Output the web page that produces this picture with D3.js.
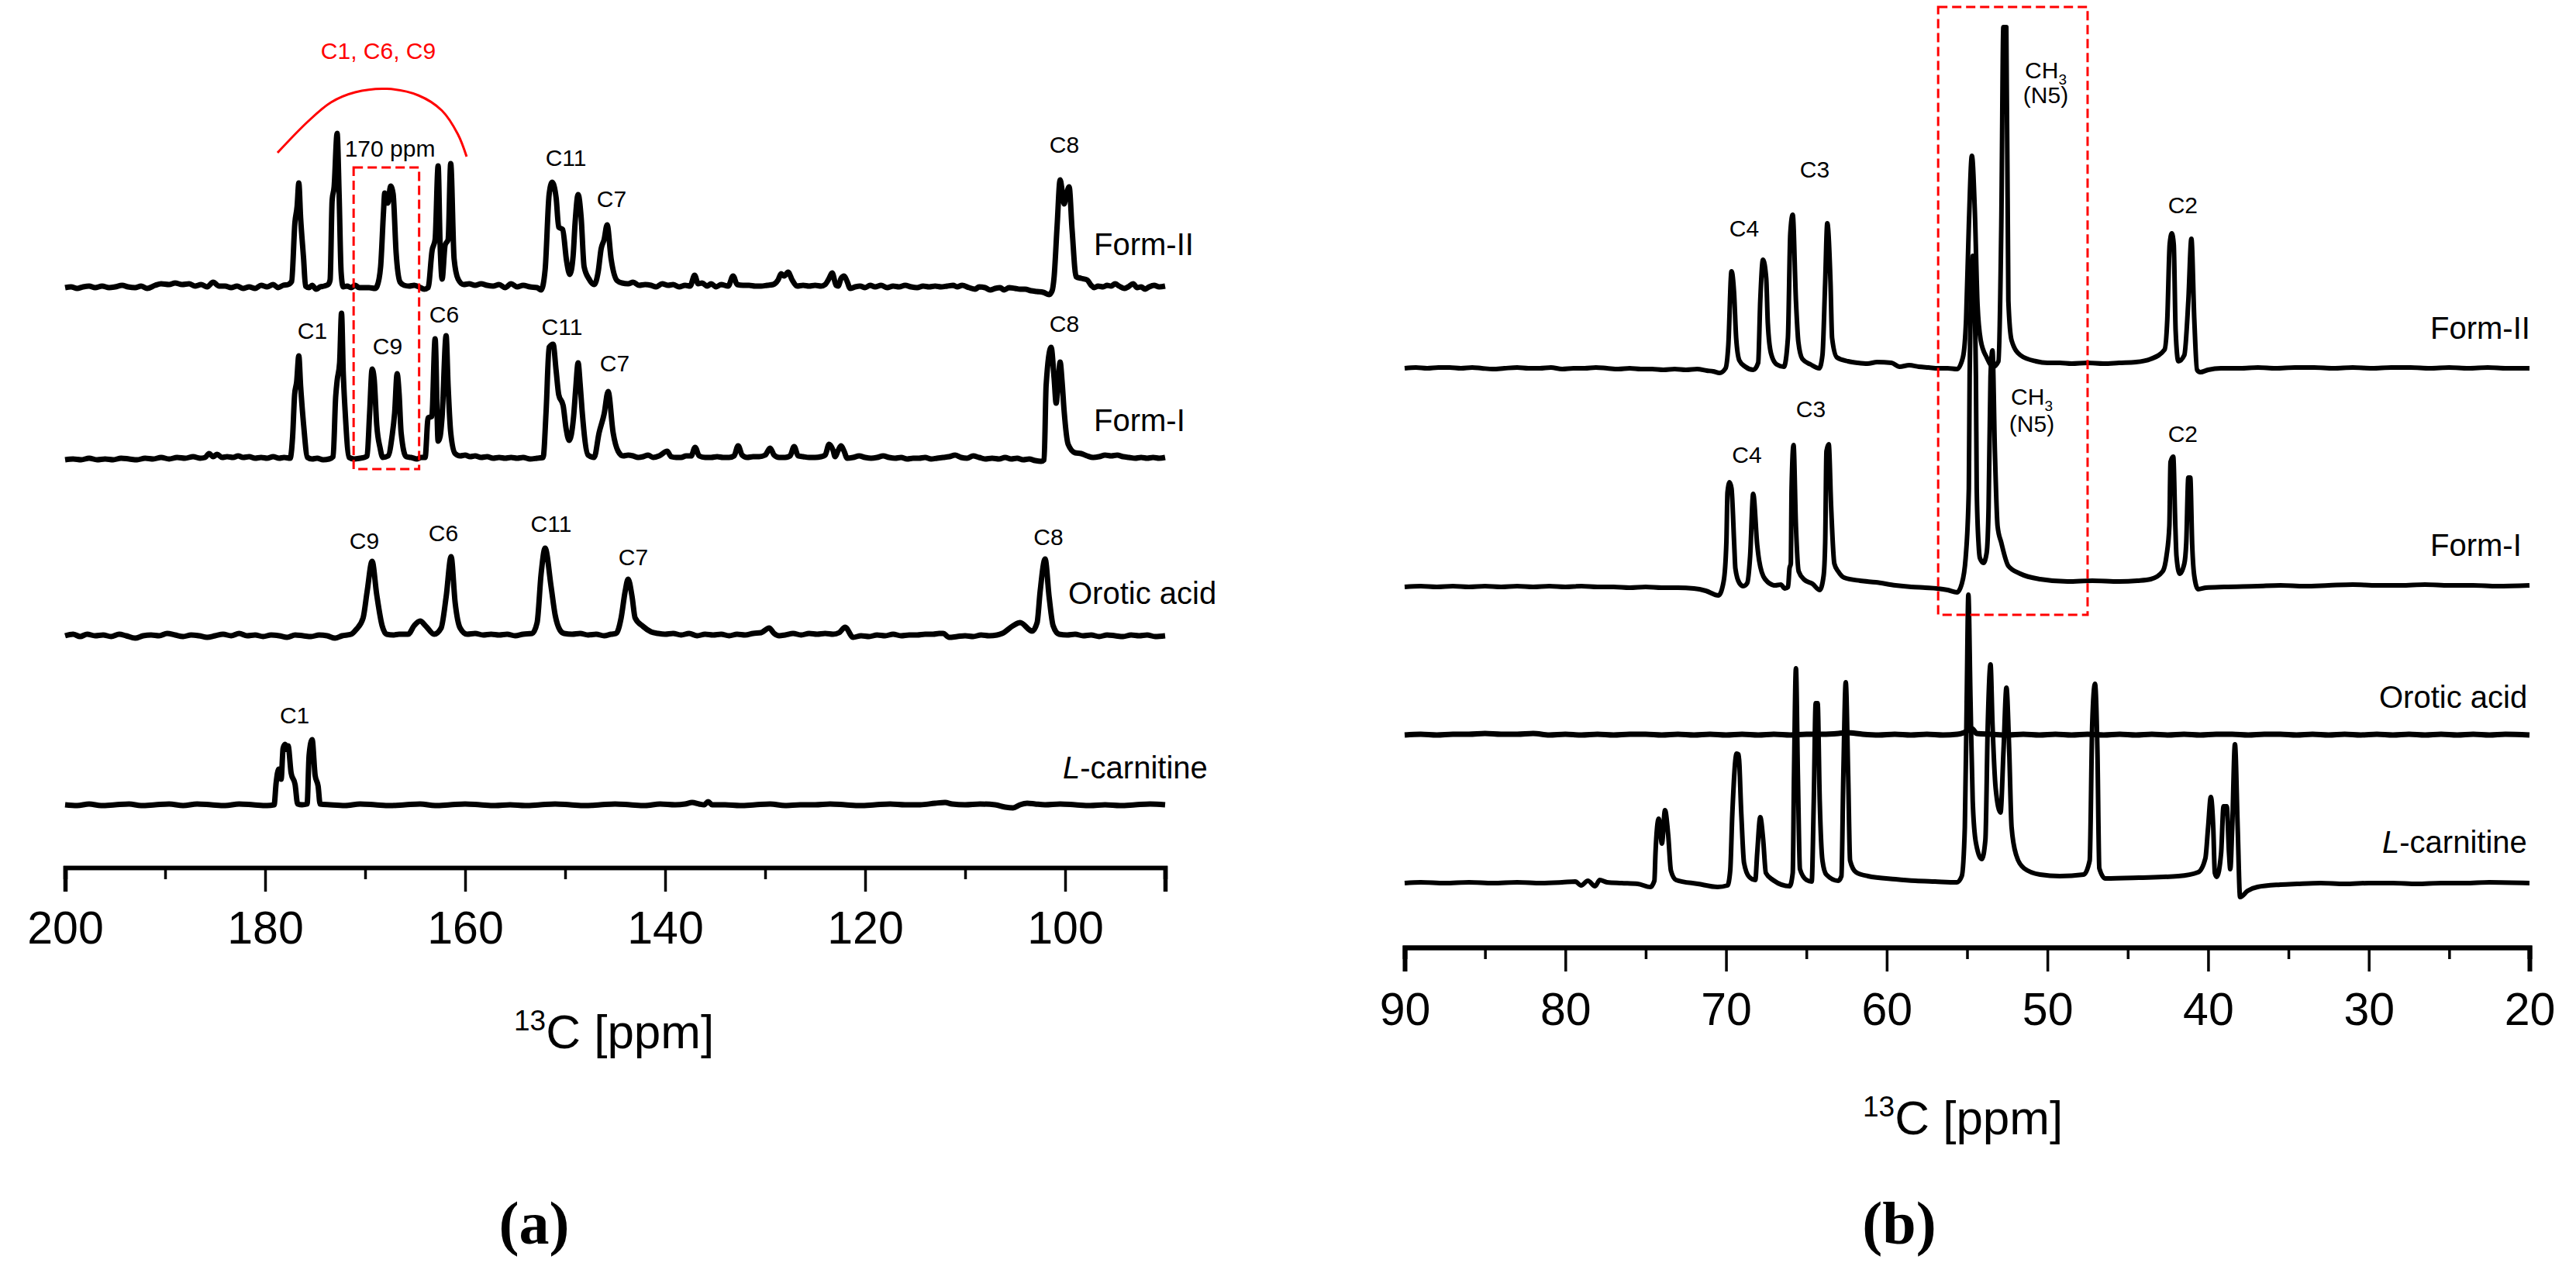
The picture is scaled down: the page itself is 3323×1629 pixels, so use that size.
<!DOCTYPE html>
<html>
<head>
<meta charset="utf-8">
<script src="https://cdn.jsdelivr.net/npm/d3@7"></script>
<style>
  html, body { margin: 0; padding: 0; background: #fff; }
  svg { display: block; }
  text { font-family: "Liberation Sans", Arial, sans-serif; fill: #000; }
  .line { fill: none; stroke: #000; stroke-linejoin: round; stroke-linecap: butt; }
  .axis path, .axis line { stroke: #000; }
</style>
</head>
<body>
<div id="chart"></div>
<script>
// values: [ppm, intensity above the trace's own baseline]
var formIIa = [[200,0],[199.4,1],[198.8,-1],[198.2,1],[197.6,2],[197,0],[196.3,2],[195.6,0],[195,1],[194.3,3],[193.7,1],[193,0],[192.4,2],[191.8,-1],[191,3],[190.4,5],[189.6,4],[189,6],[188.3,4],[187.6,5],[187,2],[186.4,4],[185.8,1],[185.2,7],[184.6,2],[184,2],[183.4,0],[182.8,2],[182.2,-1],[181.6,1],[181,-1],[180.4,3],[179.8,1],[179.2,4],[178.7,0],[178.2,3],[177.7,4],[177.35,8],
  [177.02,84],[176.8,105],[176.63,135],[176.45,90],[176.15,37],[175.96,2],[175.6,0],[175.3,3],[174.9,-2],[174.5,1],[174.1,2],[173.7,4],[173.5,10],[173.3,112],[173.1,130],[172.8,199],[172.6,120],[172.4,20],[172.2,1],[171.8,2],[171.4,0],[171,3],[170.6,0],[170.2,0],[169.6,0],[169,-1],[168.8,2],[168.45,27],[168.16,98],[168.04,122],[167.73,109],[167.45,131],[167.2,121],[166.9,45],[166.5,7],[166.1,3],[165.6,2],[165.1,3],[164.6,1],[164.1,-2],[163.7,0],[163.3,48],[163,62],[162.7,157],[162.5,55],[162.3,11],[162,55],[161.7,62],[161.44,160],[161.1,37],[160.7,11],[160.15,4],[159.6,5],[159,3],[158.4,5],[157.8,3],[157.2,2],[156.6,4],[156,0],[155.4,5],[154.8,1],[154.2,3],[153.5,1],[152.8,0],[152.4,-3],
  [152,23],[151.6,120],[151.3,136],[150.9,116],[150.64,78],[150.25,75],[149.85,34],[149.53,17],[149.2,41],[149,84],[148.7,120],[148.4,91],[148.1,27],[147.6,11],[147.1,4],[146.7,20],[146.4,50],[146.1,62],[145.8,81],[145.4,37],[144.8,9],[144.3,6],[143.7,5],[143.2,7],[142.6,3],[142,4],[141.4,3],[140.9,1],[140.3,5],[139.7,3],[139.2,4],[138.6,1],[138,3],[137.5,2],[137.05,16],[136.7,5],[136.3,6],[135.8,2],[135.4,5],[134.9,1],[134.4,4],[133.7,2],[133.2,15],[132.8,4],[132.2,3],[131.6,3],[131,2],[130.4,2],[129.8,3],[129.2,4],[128.7,10],[128.4,18],[128.1,15],[127.7,20],[127.3,10],[126.8,2],[126.2,3],[125.6,2],[125,3],[124.4,2],[124,4],[123.6,12],[123.3,19],[122.9,3],[122.7,2],[122.4,12],[122.1,15],[121.8,8],[121.5,-1],[121,1],[120.5,2],[120,0],[119.5,3],[119,1],[118.4,3],[117.8,0],[117.2,2],[116.6,1],[116,3],[115.4,1],[114.8,0],[114.2,2],[113.6,1],[113,2],[112.4,1],[111.8,2],[111.2,3],[110.8,1],[110.3,3],[109.6,0],[109,-2],[108.6,1],[108,0],[107.5,-3],[107,-1],[106.5,0],[106.1,-3],[105.6,0],[105,-1],[104.5,-2],[104,-2],[103.4,-4],[102.8,-5],[102.2,-6],[101.6,-9],[101.3,-4],[101.1,14],
  [100.8,80],[100.5,139],[100.3,125],[100.1,108],[99.9,118],[99.6,130],[99.3,74],[98.9,14],[98.4,12],[97.8,10],[97.4,3],[97.1,0],[96.7,2],[96.2,1],[95.8,3],[95.4,2],[95,5],[94.6,2],[94.1,-1],[93.7,1],[93.2,5],[92.8,0],[92.4,1],[92,-2],[91.6,1],[91.1,3],[90.6,1],[90,2]];

var formIa = [[200,0],[199.2,1],[198.4,0],[197.6,2],[196.8,0],[196,1],[195.2,0],[194.4,2],[193.6,1],[192.8,0],[192,2],[191.2,1],[190.4,3],[189.6,1],[188.8,3],[188,2],[187.2,4],[186.5,2],[186,3],[185.6,8],[185.2,4],[184.8,7],[184.3,3],[183.8,4],[183.2,3],[182.7,5],[182.2,3],[181.6,4],[181,2],[180.4,3],[179.8,2],[179.2,4],[178.6,2],[178.1,3],[177.5,2],
  [177.25,30],[177.05,84],[176.85,100],[176.63,134],[176.45,95],[176.15,45],[175.76,3],[175.3,1],[174.8,2],[174.2,0],[173.6,1],[173.2,4],[172.95,80],[172.8,102],[172.55,125],[172.36,189],[172.18,110],[172,63],[171.6,3],[171.1,1],[170.5,2],[170.1,3],[169.8,5],[169.55,60],[169.3,117],[169.1,105],[168.84,45],[168.5,15],[168.24,3],[167.7,5],[167.3,31],[167.05,60],[166.8,111],[166.6,85],[166.4,35],[165.9,4],[165.4,3],[164.8,1],[164.4,3],[164,3],[163.7,54],[163.33,56],[163,156],[162.7,24],[162.5,30],[162.3,56],[161.9,160],[161.7,95],[161.44,35],[161,8],[160.5,5],[160,6],[159.5,4],[159,5],[158.4,3],[157.8,4],[157.2,2],[156.6,3],[156,2],[155.4,3],[154.8,2],[154.2,3],[153.5,1],[152.8,2],[152.2,3],
  [151.9,63],[151.6,145],[151.2,149],[150.9,115],[150.64,84],[150.2,70],[149.9,40],[149.6,25],[149.15,56],[148.95,90],[148.7,125],[148.5,98],[148.3,63],[147.7,6],[147.1,3],[146.6,35],[146.1,59],[145.7,88],[145.2,35],[144.7,11],[144.2,5],[143.7,6],[143.2,5],[142.7,3],[142.2,4],[141.7,6],[141.2,3],[140.6,5],[139.8,11],[139.4,4],[138.9,3],[138.4,3],[137.9,5],[137.4,5],[137,16],[136.6,5],[136,3],[135.4,3],[134.8,4],[134.2,3],[133.6,3],[133.1,5],[132.7,18],[132.3,6],[131.8,3],[131.2,4],[130.6,4],[130,6],[129.5,15],[129.1,6],[128.6,3],[128,3],[127.5,5],[127.1,17],[126.7,5],[126.2,4],[125.6,3],[125,3],[124.4,4],[124,6],[123.6,20],[123.2,12],[123,4],[122.7,12],[122.4,18],[122.1,11],[121.8,2],[121.2,3],[120.6,5],[120,3],[119.4,2],[118.8,3],[118.2,5],[117.6,3],[117,2],[116.4,3],[115.8,1],[115.2,2],[114.6,2],[114,3],[113.4,1],[112.8,2],[112.2,3],[111.6,4],[111,6],[110.4,3],[109.8,2],[109.2,5],[108.6,3],[108,1],[107.3,2],[106.6,1],[106,3],[105.4,1],[104.8,2],[104.2,0],[103.6,1],[103,-1],[102.4,-2],[102.1,0],[101.9,96],[101.4,145],[101.1,105],[100.9,73],[100.7,100],[100.5,126],[100.3,100],[100.1,63],[99.7,20],[99,9],[98.4,8],[97.8,5],[97.2,3],[96.6,4],[96,6],[95.4,5],[94.8,6],[94.2,4],[93.6,3],[93,2],[92.4,3],[91.8,2],[91.2,3],[90.6,2],[90,3]];

var oroticA = [[200,0],[199.2,2],[198.5,-1],[197.8,2],[197,0],[196.2,1],[195.4,-1],[194.6,2],[193.9,0],[193,-3],[192.2,0],[191.4,1],[190.6,0],[189.8,3],[189,1],[188.2,-1],[187.4,1],[186.6,0],[185.8,-2],[185,0],[184.2,2],[183.4,0],[182.6,3],[181.8,0],[181,1],[180.2,-1],[179.4,1],[178.6,0],[177.8,-2],[177,1],[176.2,0],[175.4,-1],[174.6,1],[173.8,0],[173,-3],[172.3,0],[171.4,2],[170.9,8],[170.2,23],[169.8,57],[169.3,96],[168.84,53],[168.3,13],[167.85,2],[167.2,1],[166.6,2],[165.7,2],[165.1,13],[164.5,19],[163.9,12],[163.1,2],[162.4,10],[161.9,50],[161.4,102],[161,43],[160.5,10],[159.8,2],[159,3],[158.2,1],[157.4,2],[156.6,1],[155.8,2],[155,0],[154.2,2],[153.3,3],[152.8,17],[152.4,80],[152,113],[151.4,63],[151,27],[150.5,7],[150.1,3],[149.3,2],[148.5,3],[147.7,1],[146.9,2],[146.1,0],[145.4,2],[144.9,3],[144.4,23],[144,57],[143.7,73],[143.3,50],[143,23],[142.2,12],[141.4,5],[140.7,3],[140,2],[139.2,3],[138.4,1],[137.6,3],[136.8,0],[136,2],[135.2,1],[134.4,2],[133.6,0],[132.8,2],[132,1],[131.2,3],[130.4,4],[129.6,10],[129.1,3],[128.6,0],[128,1],[127.2,3],[126.4,1],[125.6,3],[124.8,2],[124,3],[123.2,2],[122.6,4],[122,11],[121.2,-2],[120.4,0],[119.6,-1],[118.8,1],[118,0],[117.2,2],[116.4,0],[115.6,1],[114.8,1],[114,2],[113.2,2],[112.6,3],[112.2,3],[111.6,-2],[110.8,-1],[110,0],[109.2,-1],[108.4,1],[107.6,0],[106.8,1],[106.3,3],[105.2,13],[104.5,17],[103.3,6],[102.8,17],[102.5,57],[102,99],[101.6,50],[101.2,13],[100.6,2],[99.8,1],[99,2],[98.2,0],[97.4,1],[96.6,-1],[95.8,1],[95,0],[94.2,-1],[93.4,1],[92.6,0],[91.8,1],[91,-1],[90,0]];

var carnitineA = [[200,0],[198.8,-1],[197.6,1],[196.4,-1],[195,0],[193.6,1],[192.4,-1],[191,0],[189.6,1],[188.2,-1],[186.8,1],[185.4,0],[184,-1],[182.6,1],[181.2,0],[179.8,-1],[179.1,0],[178.9,28],[178.64,46],[178.4,33],[178.2,73],[178,78],[177.8,71],[177.7,76],[177.4,41],[177,26],[176.75,1],[176.3,0],[175.8,1],[175.6,64],[175.3,84],[175,38],[174.7,24],[174.5,1],[173.5,0],[172,-1],[170.5,1],[169,0],[167.5,-1],[166,0],[164.5,1],[163,-1],[161.5,0],[160,1],[158.5,0],[157,-1],[155.5,0],[154,-1],[152.5,0],[151,1],[149.5,0],[148,-1],[146.5,0],[145,1],[143.5,0],[142,-1],[140.5,1],[139,0],[138,1],[137.3,3],[136.6,1],[136.1,0],[135.7,4],[135.3,0],[134,0],[132.5,-1],[131,0],[129.5,1],[128,-1],[126.5,0],[125,0],[123.5,1],[122,0],[120.5,-1],[119,0],[117.5,1],[116,0],[114.5,0],[113,2],[112,3],[111.3,1],[110,0],[108.5,1],[107,0],[106,-3],[105.2,-4],[104.5,0],[103.8,2],[103,1],[102,0],[100.5,1],[99,0],[97.5,-1],[96,0],[94.5,-1],[93,0],[91.5,1],[90,0]];

var formIIb = [[90,0],[89.3,1],[88.6,0],[87.9,1],[87.2,1],[86.5,0],[85.8,1],[85.2,0],[84.5,-1],[83.8,0],[83,1],[82.3,0],[81.6,0],[80.9,1],[80.2,-1],[79.5,0],[78.8,0],[78.1,1],[77.4,0],[76.7,-1],[76,0],[75.3,-1],[74.6,-1],[73.9,-2],[73.2,-1],[72.5,-2],[71.8,-1],[71.2,-3],[70.8,-4],[70.4,-6],[70.03,0],[69.86,29],[69.66,125],[69.5,97],[69.37,39],[69.17,10],[68.8,2],[68.3,-2],[68,7],[67.87,87],[67.7,140],[67.5,116],[67.4,58],[67.2,19],[66.85,5],[66.4,2],[66.15,39],[66,174],[65.85,198],[65.65,87],[65.5,34],[65.25,12],[64.74,5],[64.2,0],[64,17],[63.83,111],[63.7,187],[63.5,111],[63.4,39],[63.1,14],[62.4,9],[61.8,7],[61.2,6],[60.6,8],[59.7,7],[59.2,2],[58.6,4],[58,2],[57.4,1],[56.8,0],[56.2,0],[55.63,-1],[55.26,14],[55.06,63],[54.89,184],[54.7,274],[54.52,204],[54.35,82],[54.15,36],[53.78,14],[53.37,2],[53.05,9],[52.87,184],[52.74,440],[52.56,440],[52.43,87],[52.23,36],[51.69,17],[50.71,9],[50,7],[49.23,7],[48.5,6],[47.51,7],[46.5,6],[45.54,7],[44.5,8],[43.57,12],[42.71,24],[42.54,63],[42.39,160],[42.26,174],[42.14,160],[42.02,48],[41.85,9],[41.48,17],[41.23,87],[41.04,167],[40.86,63],[40.69,-2],[40.49,-5],[40,-2],[39.2,0],[38,0],[36.9,1],[35.8,0],[34.6,1],[33.4,1],[32.2,0],[31,1],[29.8,0],[28.6,1],[27.4,1],[26.2,0],[25,1],[23.8,0],[22.6,1],[21.4,0],[20,0]];

var formIb = [[90,0],[89,1],[88,0],[87,1],[86,0],[85,1],[84,0],[83,1],[82,0],[81,1],[80,0],[79,1],[78,0],[77,0],[76,-1],[75,0],[74,-1],[73,-1],[72,-2],[71.26,-5],[70.47,-11],[70.15,7],[69.98,57],[69.91,122],[69.78,135],[69.66,127],[69.49,54],[69.42,24],[69.17,5],[68.92,1],[68.68,5],[68.5,40],[68.31,120],[68.06,54],[67.94,34],[67.57,10],[66.95,2],[66.59,3],[66.34,-2],[66.14,0],[66.05,24],[65.97,30],[65.92,127],[65.8,183],[65.65,78],[65.48,20],[65.11,9],[64.62,4],[64.17,-4],[63.93,14],[63.83,57],[63.75,175],[63.61,184],[63.46,103],[63.26,30],[63.02,20],[62.65,12],[61.66,8],[60.68,6],[59.45,2],[58.47,0],[57.6,-1],[56.86,-2],[56.2,-4],[55.63,-7],[55.33,4],[55.09,37],[54.89,127],[54.84,272],[54.65,427],[54.45,272],[54.4,127],[54.28,54],[54.2,37],[53.98,31],[53.78,44],[53.66,103],[53.54,272],[53.42,305],[53.27,175],[53.1,78],[52.87,57],[52.43,27],[51.69,17],[50.46,10],[48.74,7],[47.2,8],[45.54,7],[44.4,8],[43.57,10],[42.83,20],[42.59,40],[42.41,79],[42.34,161],[42.17,168],[42.04,79],[41.97,40],[41.77,17],[41.48,30],[41.36,57],[41.23,141],[41.11,141],[40.99,54],[40.86,14],[40.62,-3],[40.13,-1],[39,0],[36.93,1],[35.5,2],[34,1],[32.5,2],[31,3],[29.5,2],[28,2],[26.5,3],[25,2],[23.5,2],[22,1],[20,2]];

var oroticB = [[90,0],[89,1],[88,0],[87,1],[86,1],[85,2],[84,1],[83,1],[82,2],[81,0],[80,1],[79,0],[78,1],[77,0],[76,1],[75,1],[74,0],[73,1],[72,0],[71,1],[70,0],[69,1],[68,0],[67,1],[66,0],[65,1],[64,1],[63,2],[62.5,3],[61.5,1],[60.5,0],[59.5,1],[58.5,0],[57.5,1],[56.5,0],[55.6,1],[55.2,3],[54.7,8],[54.4,2],[53.5,1],[52.5,0],[51.5,1],[50.5,0],[49.5,1],[48.5,0],[47.5,1],[46.5,0],[45.5,1],[44.5,0],[43.5,1],[42.5,0],[41.5,1],[40.5,0],[39.5,1],[38.5,1],[37.5,0],[36.5,1],[35.5,1],[34.5,0],[33.5,1],[32.5,0],[31.5,1],[30.5,0],[29.5,1],[28.5,0],[27.5,1],[26.5,0],[25.5,1],[24.5,0],[23.5,1],[22.5,0],[21.5,1],[20,0]];

var carnitineB = [[90,0],[89,1],[87.5,0],[86,1],[84.5,0],[83,1],[81.5,0],[80.2,1],[79.38,2],[79.02,-3],[78.6,3],[78.15,-4],[77.86,4],[77.4,1],[76.5,0],[75.5,-1],[74.71,-5],[74.46,3],[74.39,39],[74.19,83],[73.99,51],[73.8,94],[73.6,62],[73.43,16],[73.11,4],[71.75,-1],[70.52,-5],[69.91,-3],[69.74,16],[69.61,89],[69.34,167],[69.22,166],[69.05,89],[68.88,26],[68.56,8],[68.18,4],[68.06,39],[67.87,85],[67.69,56],[67.52,13],[67.08,4],[66.04,-4],[65.85,13],[65.77,139],[65.65,277],[65.53,139],[65.4,18],[64.99,4],[64.67,2],[64.54,106],[64.42,232],[64.3,232],[64.17,106],[64,29],[63.76,11],[63.02,3],[62.82,9],[62.7,139],[62.55,259],[62.4,139],[62.28,29],[61.91,14],[61.17,9],[59.45,5],[58.22,3],[57,2],[55.63,1],[55.33,9],[55.14,72],[55.02,239],[54.92,372],[54.79,239],[54.65,106],[54.45,52],[54.08,31],[53.86,56],[53.71,206],[53.54,282],[53.42,206],[53.22,122],[52.92,91],[52.73,172],[52.55,252],[52.38,172],[52.23,72],[51.94,36],[51.45,19],[50.46,11],[49.23,9],[47.75,11],[47.37,29],[47.21,206],[47.04,257],[46.89,172],[46.77,19],[46.4,6],[44.31,7],[41.85,9],[40.62,14],[40.17,32],[40,72],[39.83,111],[39.68,72],[39.58,13],[39.46,8],[39.19,39],[39.04,99],[38.84,99],[38.7,39],[38.62,18],[38.5,72],[38.33,179],[38.16,72],[38.01,-18],[37.54,-10],[36.93,-5],[35.5,-2],[34.46,-1],[33,0],[31.5,-1],[30,0],[28.5,0],[27,-1],[25.5,0],[24,0],[22.5,1],[20,0]];

var tickA = [200, 180, 160, 140, 120, 100];
var minorA = [190, 170, 150, 130, 110, 90];
var tickB = [90, 80, 70, 60, 50, 40, 30, 20];
var minorB = [85, 75, 65, 55, 45, 35, 25];

var peakLabelsA = ["C11", "C7", "C8", "C1", "C9", "C6", "C11", "C7", "C8", "C9", "C6", "C11", "C7", "C8", "C1"];
var peakPpmA = [149.92, 145.35, 100.08, 175.27, 167.75, 162.09, 150.31, 145.04, 100.08, 170.08, 162.17, 151.4, 143.18, 101.67, 177.05];
var peakTopA = [214, 267, 197, 437, 457, 416, 432, 479, 428, 708, 698, 686, 729, 703, 933];

var peakLabelsB = ["C4", "C3", "C2", "C4", "C3", "C2"];
var peakPpmB = [68.87, 64.48, 41.57, 68.7, 64.72, 41.57];
var peakTopB = [305, 229, 275, 597, 538, 570];

var arcPpm = [178.76, 175.74, 173.41, 171, 167.83, 164.68, 162.33, 160.73, 159.85];
var arcY = [197, 157, 132, 119, 114.6, 123, 142.5, 173, 202];

var width = 3323, height = 1629;

var svg = d3.select("#chart").append("svg")
    .attr("width", width)
    .attr("height", height);

var xA = d3.scaleLinear().domain([200, 90]).range([84, 1503]);
var xB = d3.scaleLinear().domain([90, 20]).range([1812, 3263]);
var y = d3.scaleLinear().domain([0, 1000]).range([0, -1000]);

function drawTrace(data, x, base, sw) {
  var line = d3.line()
      .x(function(d) { return x(d[0]); })
      .y(function(d) { return base + y(d[1]); })
      .curve(d3.curveMonotoneX);
  svg.append("path")
      .datum(data)
      .attr("class", "line")
      .attr("stroke-width", sw)
      .attr("d", line);
}

drawTrace(formIIa, xA, 371, 7);
drawTrace(formIa, xA, 593, 7);
drawTrace(oroticA, xA, 820, 7);
drawTrace(carnitineA, xA, 1038, 7);

drawTrace(formIIb, xB, 475, 6);
drawTrace(formIb, xB, 757, 6);
drawTrace(oroticB, xB, 948, 7);
drawTrace(carnitineB, xB, 1139, 6);

function drawAxis(x, axisY, majors, minors, labelY, sw) {
  var minor = d3.axisBottom(x).tickValues(minors).tickSize(15).tickFormat("");
  var major = d3.axisBottom(x).tickValues(majors).tickSize(31).tickPadding(21);
  var g1 = svg.append("g").attr("class", "axis").attr("transform", "translate(0," + axisY + ")").call(minor);
  var g2 = svg.append("g").attr("class", "axis").attr("transform", "translate(0," + axisY + ")").call(major);
  g1.selectAll("line").attr("stroke-width", 3.5);
  g2.selectAll("line").attr("stroke-width", 3.5);
  g1.select(".domain").attr("stroke-width", sw);
  g2.select(".domain").attr("stroke-width", sw);
  g2.selectAll("text")
      .attr("font-size", 59)
      .attr("dy", null)
      .attr("y", labelY - axisY)
      .attr("font-family", "Liberation Sans")
      .style("text-anchor", "middle");
}

drawAxis(xA, 1119, tickA, minorA, 1217, 5.5);
drawAxis(xB, 1222, tickB, minorB, 1322, 6);

function label(txt, x, yy, size, anchor) {
  return svg.append("text")
      .attr("x", x).attr("y", yy)
      .attr("font-size", size)
      .attr("text-anchor", anchor || "middle")
      .text(txt);
}

// peak labels
peakLabelsA.forEach(function(t, i) { label(t, xA(peakPpmA[i]), peakTopA[i], 30); });
peakLabelsB.forEach(function(t, i) { label(t, xB(peakPpmB[i]), peakTopB[i], 30); });

label("170 ppm", 503, 202, 30);
label("C1, C6, C9", 488, 76, 30).style("fill", "#f00");

// CH3 (N5) labels
function ch3(x, y1, y2) {
  var t = svg.append("text").attr("x", x).attr("y", y1).attr("font-size", 30).attr("text-anchor", "middle");
  t.append("tspan").text("CH");
  t.append("tspan").attr("font-size", 19).attr("dy", 8).text("3");
  label("(N5)", x, y2, 30);
}
ch3(2639, 101, 133);
ch3(2621, 522, 557);

// series names
label("Form-II", 1411, 329, 40, "start");
label("Form-I", 1411, 556, 40, "start");
label("Orotic acid", 1378, 779, 40, "start");
var la = svg.append("text").attr("x", 1371).attr("y", 1004).attr("font-size", 40);
la.append("tspan").attr("font-style", "italic").text("L");
la.append("tspan").text("-carnitine");

label("Form-II", 3135, 437, 40, "start");
label("Form-I", 3135, 717, 40, "start");
label("Orotic acid", 3069, 913, 40, "start");
var lb = svg.append("text").attr("x", 3073).attr("y", 1100).attr("font-size", 40);
lb.append("tspan").attr("font-style", "italic").text("L");
lb.append("tspan").text("-carnitine");

// axis titles
function axisTitle(x, yy) {
  var t = svg.append("text").attr("x", x).attr("y", yy).attr("font-size", 62);
  t.append("tspan").attr("font-size", 37).attr("dy", -23).text("13");
  t.append("tspan").attr("dy", 23).text("C [ppm]");
}
axisTitle(663, 1352);
axisTitle(2403, 1463);

svg.append("text").attr("x", 689).attr("y", 1604).attr("font-size", 78)
    .attr("font-weight", "bold").attr("text-anchor", "middle")
    .style("font-family", "Liberation Serif").text("(a)");
svg.append("text").attr("x", 2450).attr("y", 1604).attr("font-size", 78)
    .attr("font-weight", "bold").attr("text-anchor", "middle")
    .style("font-family", "Liberation Serif").text("(b)");

// red annotations
svg.append("path")
    .datum(d3.zip(arcPpm, arcY))
    .attr("fill", "none").attr("stroke", "#f00").attr("stroke-width", 3)
    .attr("d", d3.line().x(function(d) { return xA(d[0]); }).y(function(d) { return d[1]; }).curve(d3.curveCatmullRom));

function dashedBox(x, lo, hi, top, bottom) {
  svg.append("rect")
      .attr("x", x(lo)).attr("y", top)
      .attr("width", x(hi) - x(lo)).attr("height", bottom - top)
      .attr("fill", "none").attr("stroke", "#f00").attr("stroke-width", 3)
      .attr("stroke-dasharray", "12,6");
}
dashedBox(xA, 171.15, 164.6, 216, 605);
dashedBox(xB, 56.8, 47.5, 9, 793);
</script>
</body>
</html>
